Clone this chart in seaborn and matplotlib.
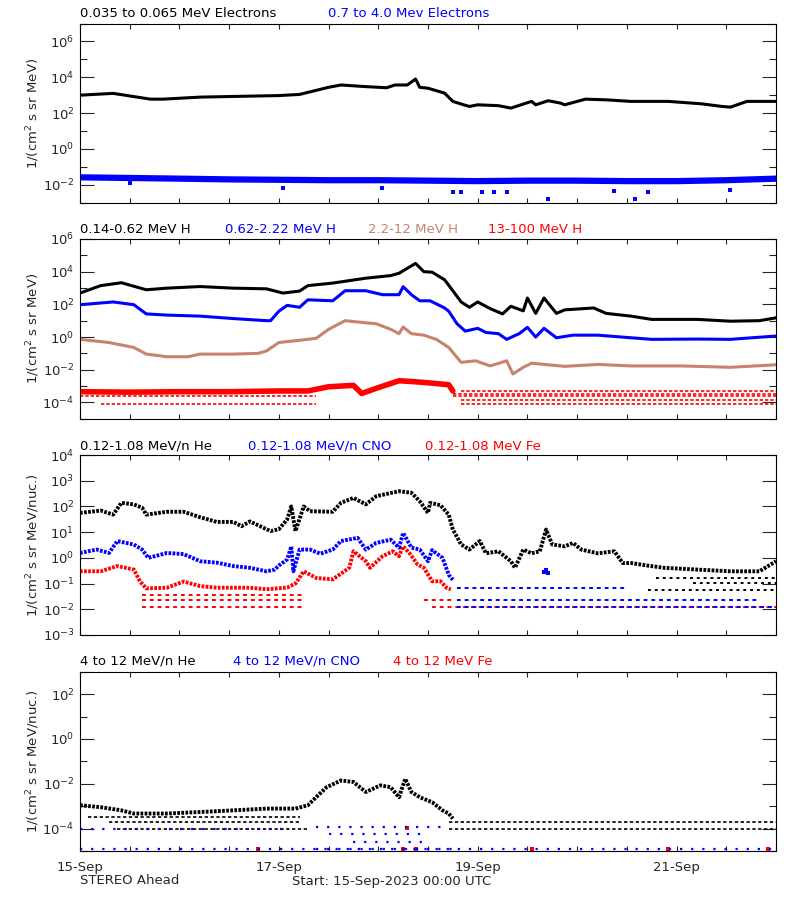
import matplotlib
matplotlib.use("Agg")
import numpy as np
import pandas as pd
import matplotlib.pyplot as plt
import matplotlib.ticker as mticker
import seaborn as sns

# time axis: hours since 15-Sep-2023 00:00 UTC
# ---- panel 1: electrons
e_low_h = [0, 8, 17, 20, 29, 37, 48, 53, 60, 63, 69, 74, 76, 79, 81, 82, 84, 88, 90, 92, 94, 96,
           101, 104, 109, 110, 113, 116, 117, 122, 127, 133, 142, 150, 155, 157, 161, 168]
e_low = [1.0e3, 1.26e3, 600, 600, 780, 850, 950, 1.1e3, 2.75e3, 3.7e3, 3.0e3, 2.6e3, 3.7e3, 3.7e3,
         8.0e3, 2.75e3, 2.45e3, 1.3e3, 450, 320, 235, 290, 260, 190, 450, 290, 490, 360, 290,
         600, 550, 450, 450, 330, 235, 215, 450, 450]
e_high_h = [0, 12, 24, 36, 48, 60, 72, 84, 96, 108, 120, 132, 144, 156, 168]
e_high = [2.6e-2, 2.4e-2, 2.2e-2, 2.0e-2, 1.9e-2, 1.8e-2, 1.8e-2, 1.7e-2, 1.6e-2, 1.7e-2, 1.7e-2,
          1.6e-2, 1.6e-2, 1.8e-2, 2.2e-2]
e_high_out_h = [12, 49, 73, 90, 92, 97, 100, 103, 113, 129, 134, 137, 157]
e_high_out = [1.2e-2, 6.8e-3, 6.8e-3, 3.9e-3, 3.9e-3, 3.9e-3, 3.9e-3, 3.9e-3, 1.7e-3, 4.5e-3,
              1.7e-3, 3.9e-3, 5.0e-3]

# ---- panel 2: protons
h1_h = [0, 5, 10, 16, 21, 29, 37, 45, 49, 53, 55, 61, 69, 75, 77, 81, 83, 85, 88, 90, 92, 94, 96,
        99, 102, 104, 107, 108, 110, 112, 115, 117, 124, 127, 133, 138, 149, 157, 164, 168]
h1 = [490, 1.4e3, 2.1e3, 780, 980, 1.23e3, 980, 890, 490, 650, 1.4e3, 2.0e3, 4.0e3, 5.75e3, 8.0e3,
      3.2e4, 1.0e4, 9.3e3, 3.2e3, 680, 140, 66, 140, 55, 26, 76, 40, 245, 28, 245, 28, 46, 60, 28,
      19, 12, 12, 9.3, 10, 15]
h2_h = [0, 8, 13, 16, 21, 29, 37, 45, 46, 48, 50, 53, 55, 61, 64, 69, 73, 77, 78, 80, 82, 84.5,
        88, 89, 91, 93, 96, 98, 101, 103, 106, 108, 110, 112, 115, 119, 125, 133, 138, 149, 157, 168]
h2 = [95, 140, 95, 26, 22, 19, 13.5, 10, 10, 38, 87, 66, 190, 165, 680, 680, 390, 390, 1.2e3, 390,
      165, 165, 60, 38, 6.5, 2.3, 3.4, 1.9, 1.6, 0.72, 1.6, 3.9, 1.0, 3.4, 0.9, 1.3, 1.3, 0.9,
      0.72, 0.75, 0.72, 1.15]
h3_h = [0, 7, 13, 16, 21, 26, 29, 37, 43, 45, 48, 53, 57, 60, 64, 69, 71.5, 75, 77, 78, 80, 83,
        86, 89, 92, 95.5, 99, 103, 104.5, 107, 109, 117, 125, 133, 145, 157, 168]
h3 = [0.72, 0.46, 0.23, 0.09, 0.062, 0.062, 0.09, 0.09, 0.1, 0.14, 0.46, 0.63, 0.83, 2.95, 10,
      7.4, 6.5, 2.95, 1.6, 4.1, 1.6, 1.3, 0.72, 0.23, 0.028, 0.035, 0.017, 0.035, 0.0055, 0.014,
      0.025, 0.016, 0.021, 0.017, 0.017, 0.014, 0.02]
h4_h = [0, 12, 24, 36, 48, 55, 60, 66, 68, 72, 77, 80, 85, 89, 90]
h4 = [4.5e-4, 4.2e-4, 4.5e-4, 4.5e-4, 5.0e-4, 5.0e-4, 9e-4, 1.1e-3, 3.5e-4, 8e-4, 2.1e-3, 1.9e-3,
      1.5e-3, 1.2e-3, 5e-4]
h4_floor = [2.3e-4, 7.5e-5, 5.0e-4, 3.4e-4, 2.3e-4, 1.45e-4, 7.5e-5]
h4_floor_start = [0, 5, 92, 90, 90, 92, 92]
h4_floor_end = [57, 57, 168, 168, 168, 168, 168]

# ---- panel 3: low energy ions
he_h = [0, 5, 8, 10, 13, 15, 16, 21, 25, 29, 33, 37, 39, 41, 43.5, 46, 48, 50, 51, 52, 54, 55.5,
        61, 63, 66, 69, 71.5, 77, 80, 82, 84, 84.5, 87, 89, 90, 92, 94, 96.5, 98, 101, 104, 105,
        107, 109, 111, 112.5, 114, 117, 119, 121, 125, 129, 131, 133, 137, 141, 149, 157, 164, 168]
he = [56, 69, 48, 138, 120, 89, 48, 62, 62, 38, 25, 25, 17, 26, 17, 11, 13, 31, 100, 11, 100, 65,
      62, 138, 214, 120, 250, 390, 340, 160, 56, 138, 112, 48, 12.6, 3.3, 2.1, 4.5, 1.5, 1.8,
      0.74, 0.41, 2.1, 1.5, 1.8, 12.6, 3.3, 2.8, 3.8, 2.1, 1.5, 1.8, 0.63, 0.63, 0.5, 0.41, 0.35,
      0.3, 0.3, 0.74]
cno_h = [0, 4, 7, 9, 13, 15, 16.5, 21, 25, 29, 33, 37, 41, 45, 47, 48, 50, 51, 51.5, 53, 55.5,
         58, 61, 63, 67, 69, 71.5, 75, 77, 78, 80, 82, 84, 85, 87.5, 89, 90]
cno = [1.55, 2.1, 1.55, 4.5, 3.3, 2.1, 1.0, 1.55, 1.4, 0.74, 0.65, 0.48, 0.41, 0.3, 0.35, 0.5,
       0.87, 2.8, 0.3, 2.1, 2.1, 1.45, 2.1, 4.5, 6.0, 2.1, 3.8, 5.1, 2.5, 9.3, 2.5, 2.1, 0.74,
       2.0, 1.0, 0.22, 0.14]
fe_h = [0, 5, 9, 13, 14.5, 16, 21, 25, 29, 33, 37, 41, 45, 50, 52, 54, 57, 61, 65, 66, 69, 70,
        73, 75.5, 77, 78, 79.5, 81.5, 83, 85, 87, 88.5, 89.5]
fe = [0.3, 0.3, 0.48, 0.35, 0.12, 0.065, 0.069, 0.12, 0.08, 0.069, 0.069, 0.069, 0.06, 0.07, 0.1,
      0.3, 0.166, 0.145, 0.41, 1.8, 0.74, 0.41, 1.15, 1.8, 1.15, 2.8, 1.55, 0.55, 0.41, 0.123,
      0.123, 0.068, 0.06]
cno_extra_h = [112, 112.5, 113]
cno_extra = [0.28, 0.35, 0.25]
he_floor = [0.166, 0.107, 0.054]
he_floor_start = [139, 148, 137]
he_floor_end = [168, 168, 168]
cno_floor = [0.068, 0.024, 0.012]
cno_floor_start = [90, 90, 90]
cno_floor_end = [132, 164, 168]
fe_floor = [0.035, 0.024, 0.012, 0.024, 0.012]
fe_floor_start = [15, 15, 15, 83, 85]
fe_floor_end = [54, 54, 54, 90, 168]

# ---- panel 4: high energy ions
he2_h = [0, 5, 10, 13, 21, 29, 37, 45, 52, 55, 57, 59.5, 63, 66, 69, 72.5, 75, 77, 78.5, 80, 82,
         85, 87.5, 89, 90]
he2 = [1.1e-3, 9e-4, 6.5e-4, 4.7e-4, 4.7e-4, 5.5e-4, 6.5e-4, 7.8e-4, 7.8e-4, 1.1e-3, 2.5e-3,
       7e-3, 1.4e-2, 1.2e-2, 4.3e-3, 8.5e-3, 7e-3, 2.5e-3, 1.65e-2, 4.3e-3, 2.5e-3, 1.5e-3,
       6.5e-4, 4.7e-4, 2.8e-4]
he2_floor = [3.3e-4, 2e-4, 1e-4, 2e-4, 1e-4]
he2_floor_start = [2, 7, 9, 89, 89]
he2_floor_end = [53, 53, 55, 168, 168]
cno2_floor = [1e-4, 1.2e-5, 1.2e-4, 6e-5, 2.5e-5, 1.2e-5]
cno2_floor_start = [0, 0, 57, 60, 66, 57]
cno2_floor_end = [50, 168, 88, 84, 84, 90]
fe2_h = [43, 78, 79, 81, 109, 142, 166]
fe2 = [1.2e-5, 1.2e-5, 1.1e-4, 1.2e-5, 1.2e-5, 1.2e-5, 1.2e-5]

day_ticks = [0, 48, 96, 144]
day_labels = ["15-Sep", "17-Sep", "19-Sep", "21-Sep"]

BLACK, BLUE, BROWN, RED = "#000000", "#0000ff", "#c8826e", "#ff0000"
SPECKLE = (0, (0.7, 0.35))

sns.set_style("white")
plt.rcParams["font.family"] = ["DejaVu Sans"]
plt.rcParams["mathtext.fontset"] = "dejavusans"

fig = plt.figure(figsize=(8, 9), dpi=100)
boxes = [(23.5, 202.7), (239, 418.7), (455, 635), (671.7, 851)]
axes = []
for top, bot in boxes:
    axes.append(fig.add_axes([80 / 800, 1 - bot / 900, 696 / 800, (bot - top) / 900]))


def line(ax, hours, vals, color, lw=2.0, ls="-"):
    df = pd.DataFrame({"h": hours, "v": vals})
    sns.lineplot(data=df, x="h", y="v", ax=ax, color=color, linewidth=lw,
                 linestyle=ls, estimator=None, sort=False, dash_capstyle="butt")


def dots(ax, hours, vals, color, size=5):
    df = pd.DataFrame({"h": hours, "v": vals})
    sns.scatterplot(data=df, x="h", y="v", ax=ax, color=color, marker="s", s=size,
                    linewidth=0)


def floors(ax, levels, starts, ends, color, ls=(0, (1, 1)), lw=1.4):
    ax.hlines(levels, starts, ends, colors=color, linestyles=[ls], linewidth=lw)


def style(ax, lo, hi, major, minor, bottom=False):
    ax.set_yscale("log")
    ax.set_ylim(10.0 ** lo, 10.0 ** hi)
    ax.set_xlim(0, 168)
    ax.yaxis.set_major_locator(mticker.FixedLocator([10.0 ** k for k in major]))
    ax.yaxis.set_minor_locator(mticker.FixedLocator([10.0 ** k for k in minor]))
    ax.yaxis.set_major_formatter(
        mticker.FuncFormatter(lambda v, p: r"$10^{%d}$" % round(np.log10(v))))
    ax.yaxis.set_minor_formatter(mticker.NullFormatter())
    ax.xaxis.set_major_locator(mticker.MultipleLocator(12))
    if bottom:
        lab = dict(zip(day_ticks, day_labels))
        ax.xaxis.set_major_formatter(
            mticker.FuncFormatter(lambda v, p: lab.get(int(round(v)), "")))
    else:
        ax.xaxis.set_major_formatter(mticker.NullFormatter())
    ax.tick_params(axis="y", which="major", direction="in", length=10, width=0.8,
                   left=True, right=True, labelsize=9.5, pad=4)
    ax.tick_params(axis="y", which="minor", direction="in", length=5, width=0.8,
                   left=True, right=True)
    ax.tick_params(axis="x", which="major", direction="in", length=3.5, width=0.8,
                   top=True, bottom=True, labelsize=9.5, pad=7)
    ax.set_xlabel("")
    ax.set_ylabel("")
    for s in ax.spines.values():
        s.set_linewidth(0.8)
        s.set_color("black")


# panel 1
ax = axes[0]
line(ax, e_high_h, e_high, BLUE, lw=4.5)
dots(ax, e_high_out_h, e_high_out, BLUE)
line(ax, e_low_h, e_low, BLACK, lw=2.2)
style(ax, -3, 7, [-2, 0, 2, 4, 6], [-3, -1, 1, 3, 5, 7])

# panel 2
ax = axes[1]
floors(ax, h4_floor, h4_floor_start, h4_floor_end, RED, ls=(0, (2, 1.2)), lw=1.2)
line(ax, h4_h, h4, RED, lw=4)
line(ax, h3_h, h3, BROWN, lw=2.2)
line(ax, h2_h, h2, BLUE, lw=2.2)
line(ax, h1_h, h1, BLACK, lw=2.2)
style(ax, -5, 6, [-4, -2, 0, 2, 4, 6], [-5, -3, -1, 1, 3, 5])

# panel 3
ax = axes[2]
floors(ax, he_floor, he_floor_start, he_floor_end, BLACK, ls=(0, (1.5, 2)))
floors(ax, fe_floor, fe_floor_start, fe_floor_end, RED, ls=(0, (2, 2)))
floors(ax, cno_floor, cno_floor_start, cno_floor_end, BLUE, ls=(2, (2, 2)))
line(ax, fe_h, fe, RED, lw=2.8, ls=SPECKLE)
line(ax, cno_h, cno, BLUE, lw=2.8, ls=SPECKLE)
dots(ax, cno_extra_h, cno_extra, BLUE, size=8)
line(ax, he_h, he, BLACK, lw=2.8, ls=SPECKLE)
style(ax, -3, 4, [-3, -2, -1, 0, 1, 2, 3, 4], [])

# panel 4
ax = axes[3]
floors(ax, he2_floor, he2_floor_start, he2_floor_end, BLACK, ls=(0, (2, 1.5)), lw=1.2)
floors(ax, cno2_floor, cno2_floor_start, cno2_floor_end, BLUE, ls=(0, (1, 4)), lw=1.6)
line(ax, he2_h, he2, BLACK, lw=2.8, ls=SPECKLE)
dots(ax, fe2_h, fe2, RED, size=6)
style(ax, -5, 3, [-4, -2, 0, 2], [-5, -3, -1, 1, 3], bottom=True)

# titles above the panels
titles = [
    (13.5, [(80, "0.035 to 0.065 MeV Electrons", BLACK), (328, "0.7 to 4.0 Mev Electrons", BLUE)]),
    (229.5, [(80, "0.14-0.62 MeV H", BLACK), (225, "0.62-2.22 MeV H", BLUE),
             (368, "2.2-12 MeV H", BROWN), (488, "13-100 MeV H", RED)]),
    (446, [(80, "0.12-1.08 MeV/n He", BLACK), (248, "0.12-1.08 MeV/n CNO", BLUE),
           (425, "0.12-1.08 MeV Fe", RED)]),
    (661.5, [(80, "4 to 12 MeV/n He", BLACK), (233, "4 to 12 MeV/n CNO", BLUE),
             (393, "4 to 12 MeV Fe", RED)]),
]
for y, parts in titles:
    for x, txt, c in parts:
        fig.text(x / 800, 1 - y / 900, txt, color=c, fontsize=9.5, ha="left", va="center")

ylabels = ["1/(cm$^2$ s sr MeV)", "1/(cm$^2$ s sr MeV)",
           "1/(cm$^2$ s sr MeV/nuc.)", "1/(cm$^2$ s sr MeV/nuc.)"]
for (top, bot), txt in zip(boxes, ylabels):
    fig.text(33 / 800, 1 - (top + bot) / 2 / 900, txt, rotation=90, fontsize=9.5,
             ha="center", va="center")

fig.text(80 / 800, 1 - 881 / 900, "STEREO Ahead", fontsize=9.5, ha="left", va="center")
fig.text(292 / 800, 1 - 881 / 900, "Start: 15-Sep-2023 00:00 UTC", fontsize=9.5,
         ha="left", va="center")

fig.savefig("out.png", dpi=100, facecolor="white")
